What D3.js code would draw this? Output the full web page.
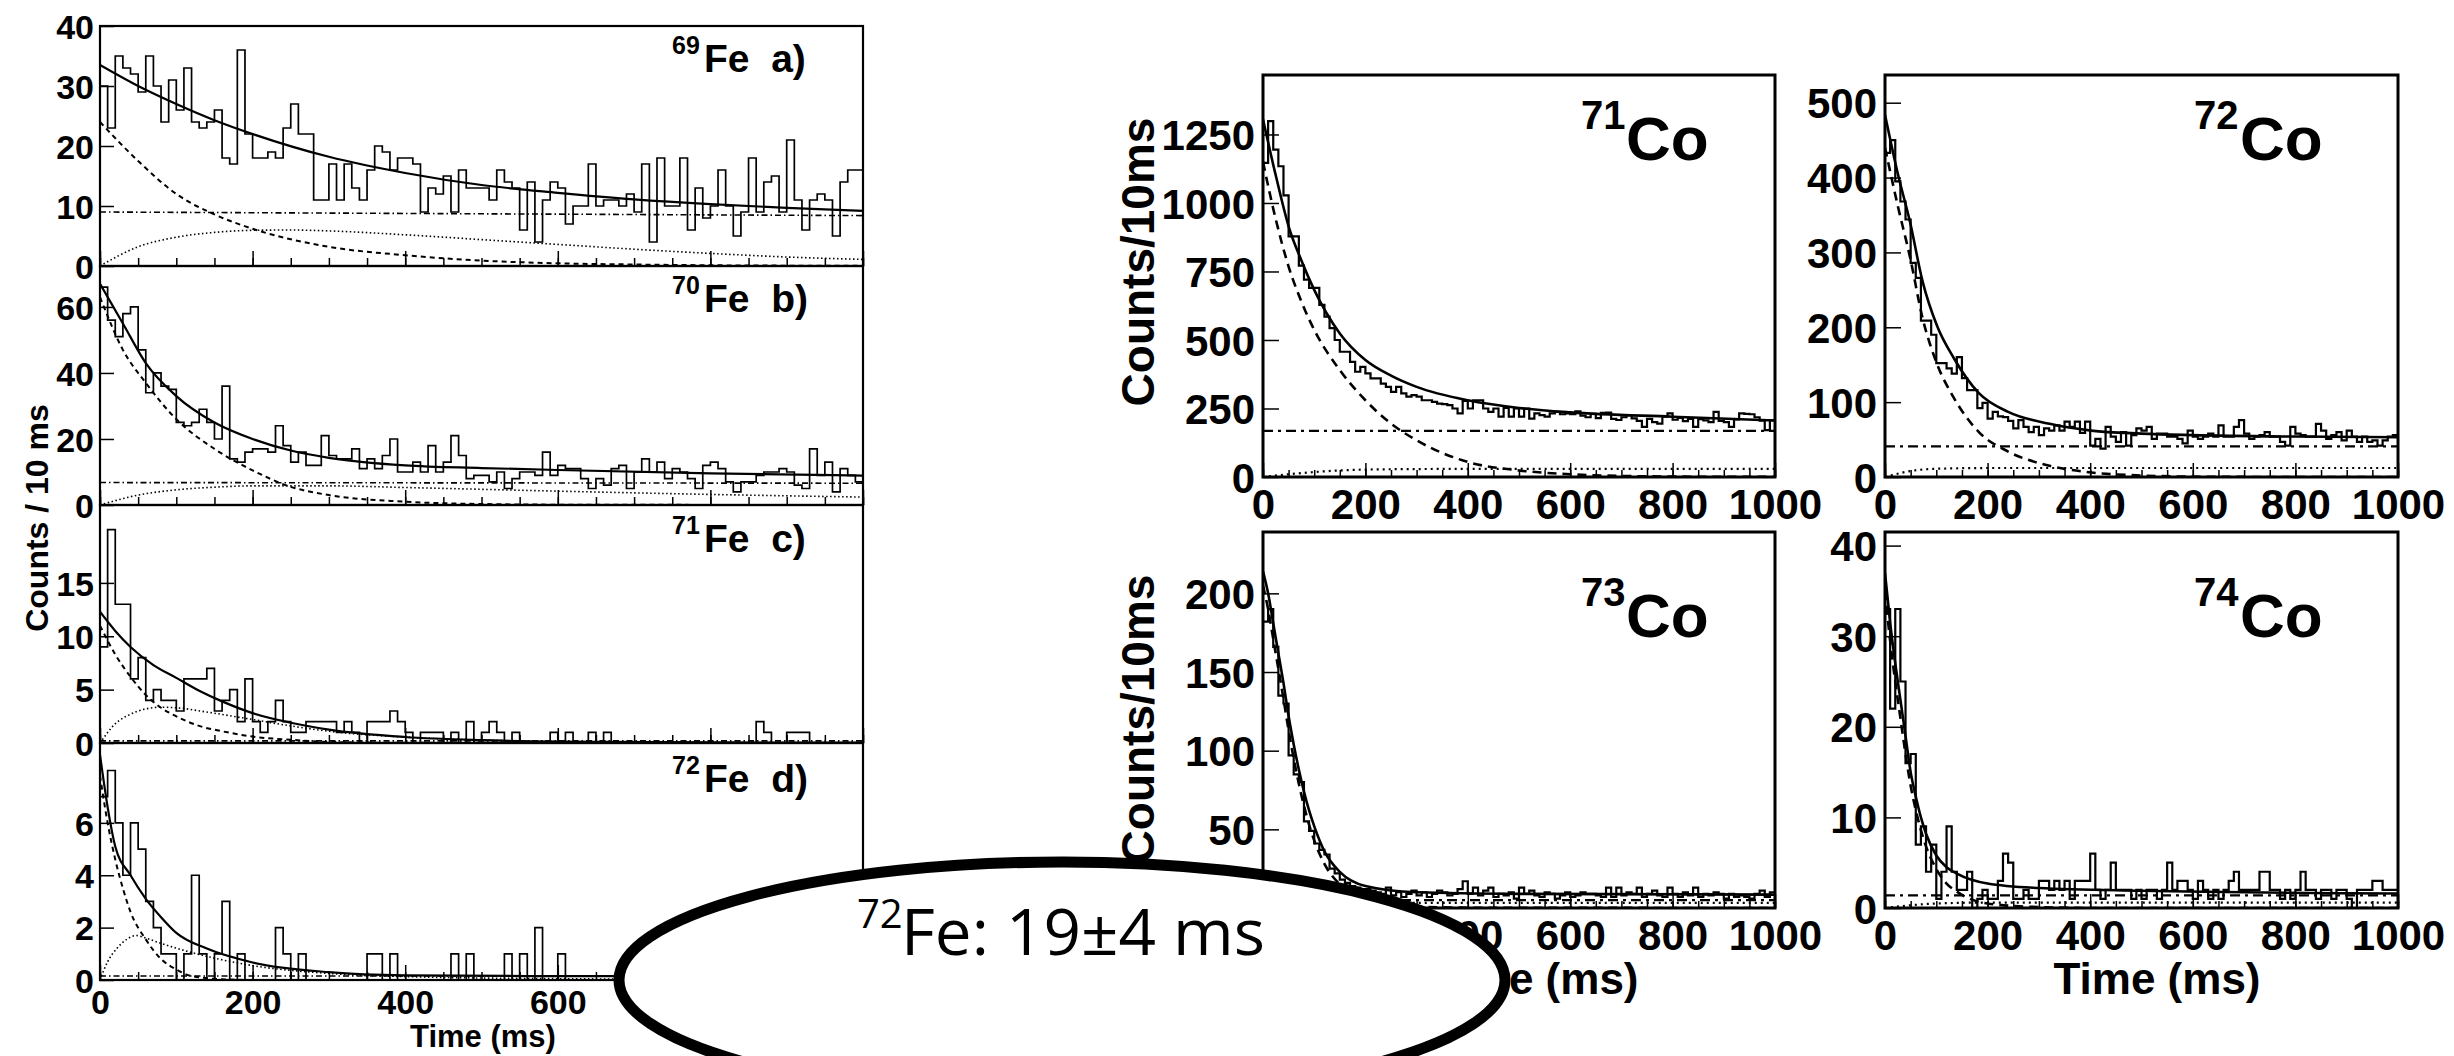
<!DOCTYPE html>
<html><head><meta charset="utf-8">
<script src="https://cdn.jsdelivr.net/npm/d3@7"></script>
<style>html,body{margin:0;padding:0;background:#fff;} svg{display:block}</style>
</head><body>
<svg id="chart" width="2454" height="1056"></svg>
<script>
// ---------------- DATA ----------------
const binWidth = 10; // ms per bin
const timeTickLabels = [0, 200, 400, 600, 800, 1000];

// Left column: Fe isotopes (counts per 10 ms bin, 0..1000 ms)
const fe69Counts = [30,23,35,33,32,29,35,30,24,31, 26,33,24,23,24,26,18,17,36,22, 18,18,19,18,23,27,22,22,11,11,
  17,11,17,13,11,16,20,19,16,18, 18,17,9,13,12,15,9,16,13,13, 13,11,16,14,13,6,14,4,11,14,
  13,7,10,10,17,10,11,11,10,12, 9,17,4,18,10,10,18,6,13,8, 10,16,10,5,9,18,9,14,15,9, 21,11,6,11,12,11,5,14,16,16];
const fe70Counts = [66,56,51,58,60,47,34,40,36,35, 25,24,25,29,25,20,36,14,13,16, 17,17,16,24,18,13,16,12,12,21,
  15,14,14,17,11,14,11,15,20,10, 10,13,10,18,10,13,21,15,8,9, 9,7,10,5,8,10,10,9,16,9,
  12,11,11,8,5,8,6,11,12,5, 10,14,10,13,8,11,10,8,5,12, 13,11,7,4,7,7,9,10,10,11, 10,6,5,17,9,13,4,11,9,7];
const fe71Counts = [9,20,13,13,6,8,4,5,4,4, 3,6,6,6,7,3,4,5,2,6, 2,1,2,4,2,1,1,2,2,2, 2,1,2,1,0,2,2,2,3,2,
  1,0,1,1,1,0,1,0,2,0, 1,2,1,0,1,0,0,0,0,1, 0,1,0,0,1,0,1,0,0,0, 0,0,0,0,0,0,0,0,0,0,
  0,0,0,0,0,0,2,1,0,0, 1,1,1,0,0,0,0,0,0,0];
const fe72Counts = [7,8,6,4,6,5,3,2,1,1, 0,1,4,1,0,1,3,0,1,0, 0,0,0,2,1,0,1,0,0,0, 0,0,0,0,0,1,1,0,1,0,
  0,0,0,0,0,0,1,0,1,0, 0,0,0,1,0,1,0,2,0,0, 1,0,0,0,0,0,0,0,0,0, 0,0,1,0,0,0,0,1,0,0,
  0,1,0,0,0,0,0,0,1,0, 0,0,0,1,0,0,0,0,0,0];

// Fit components: [time ms, counts]
const fe69Total = [[0,33.5],[50,30],[100,27],[150,24.3],[200,22],[300,18.2],[400,15.5],[500,13.5],[600,12.2],[700,11.1],[800,10.3],[900,9.7],[1000,9.2]];
const fe69Parent = [[0,24],[50,17.5],[100,12],[150,8.6],[200,6.2],[300,3.2],[400,1.8],[500,0.9],[600,0.45],[700,0.25],[800,0.12],[1000,0.03]];
const fe69Daughter = [[0,0],[50,3.2],[100,4.8],[150,5.6],[200,5.95],[250,6.0],[300,5.85],[400,5.2],[500,4.4],[600,3.6],[700,2.8],[800,2.1],[900,1.5],[1000,1.1]];
const fe69Bg = [[0,9.0],[1000,8.4]];

const fe70Total = [[0,67],[30,55],[60,43],[100,33],[150,25],[200,20],[250,16.5],[300,14.3],[400,12],[500,11.2],[600,10.6],[800,9.6],[1000,8.9]];
const fe70Parent = [[0,63],[30,47],[60,37],[100,26],[150,17],[200,10.5],[250,5.5],[300,3],[400,1.0],[500,0.3],[600,0.1],[1000,0]];
const fe70Daughter = [[0,0],[50,3],[100,4.6],[150,5.4],[200,5.8],[300,5.8],[400,5.3],[600,4.2],[800,3.2],[1000,2.4]];
const fe70Bg = [[0,6.8],[1000,6.6]];

const fe71Total = [[0,12.3],[20,10.5],[40,9],[70,7.3],[100,6.1],[130,4.9],[160,3.9],[200,2.8],[250,1.9],[300,1.25],[400,0.56],[500,0.27],[600,0.14],[800,0.06],[1000,0.03]];
const fe71Parent = [[0,11],[20,8.3],[40,6.2],[60,4.5],[80,3.3],[100,2.5],[130,1.6],[160,1.1],[200,0.6],[250,0.3],[300,0.1],[400,0.02],[1000,0]];
const fe71Daughter = [[0,0],[20,1.8],[40,2.7],[60,3.2],[80,3.35],[100,3.3],[140,2.9],[200,2.2],[250,1.6],[300,1.1],[400,0.55],[500,0.27],[600,0.13],[800,0.04],[1000,0.01]];
const fe71Bg = [[0,0.2],[1000,0.2]];

const fe72Total = [[0,8.6],[10,6.6],[20,5.1],[40,4.0],[60,3.1],[80,2.4],[100,1.8],[140,1.2],[200,0.67],[300,0.3],[400,0.18],[600,0.15],[1000,0.15]];
const fe72Parent = [[0,7.8],[10,6],[20,4.6],[30,3.5],[40,2.6],[60,1.55],[80,0.8],[100,0.4],[120,0.15],[160,0.03],[200,0],[1000,0]];
const fe72Daughter = [[0,0],[10,0.7],[22,1.2],[35,1.55],[47,1.7],[60,1.6],[80,1.4],[120,1.05],[160,0.77],[200,0.55],[300,0.25],[400,0.13],[600,0.05],[1000,0.01]];
const fe72Bg = [[0,0.15],[1000,0.15]];

// Right block: Co isotopes
const co71Counts = [1146,1299,1195,1134,1028,878,878,771,720,690, 690,628,585,543,500,457,457,420,384,402,
  378,360,360,341,329,311,329,305,293,299, 293,280,280,274,268,266,262,250,232,278,
  250,280,280,250,238,250,220,252,220,250, 220,250,213,232,226,220,232,238,229,232,
  229,240,224,218,230,215,234,235,212,208, 218,226,214,205,183,212,200,195,220,232,
  209,216,204,212,183,211,207,200,238,205, 200,183,210,232,230,229,218,206,171,207];
const co72Counts = [433,450,395,368,344,286,266,209,209,190, 152,152,145,138,160,132,116,116,92,99,
  78,87,81,80,75,65,76,67,60,67, 56,65,62,69,62,74,67,74,59,74, 42,51,38,67,54,47,60,42,56,65,
  62,67,51,58,58,54,54,51,45,62, 54,51,54,58,54,69,54,54,67,76, 58,51,54,56,60,54,54,47,42,67,
  58,56,54,54,71,62,51,56,60,49, 62,54,47,54,47,49,42,49,54,56];
const co73Counts = [182,190,166,135,130,97,85,80,55,49, 41,37,34,25,22,18,16,14,13,12,
  12,11,10,9,13,8,10,7,9,11, 8,10,7,9,11,10,8,9,12,17, 9,13,8,11,13,7,9,8,10,6,
  13,9,11,8,7,10,9,6,8,10, 7,8,10,9,9,8,7,13,7,13, 8,10,9,13,7,9,11,8,7,13,
  9,7,10,8,13,7,9,8,10,9, 6,9,7,8,7,6,9,11,7,10];
const co74Counts = [33,22,33,25,16,17,7,9,4,7, 1,4,9,4,2,2,4,0,1,2, 1,1,3,6,5,1,1,2,1,1,
  3,3,2,3,2,3,1,3,3,3, 6,2,1,2,5,2,2,2,1,2, 1,2,2,1,2,5,2,3,3,2, 1,3,2,1,2,1,2,3,4,2,
  2,2,2,4,4,2,2,1,2,1, 2,4,2,2,1,2,2,1,2,2, 1,0,2,2,2,3,3,2,2,2];

const co71Total = [[0,1305],[25,1100],[50,915],[75,790],[100,683],[150,524],[200,427],[250,370],[300,329],[400,280],[500,252],[600,236],[800,220],[1000,206]];
const co71Parent = [[0,1150],[25,940],[50,768],[75,640],[100,537],[150,390],[200,280],[250,195],[300,134],[400,55],[500,24],[600,10],[700,4],[800,1.5],[1000,0.3]];
const co71Daughter = [[0,0],[50,10],[100,18],[150,24],[200,27],[300,29],[500,30],[1000,30]];
const co71Bg = [[0,168],[1000,168]];

const co72Total = [[0,484],[25,405],[49,340],[73,262],[102,201],[134,159],[183,112],[240,87],[321,71],[402,62],[500,58],[600,56],[800,54],[1000,53]];
const co72Parent = [[0,440],[25,362],[49,293],[73,213],[102,150],[134,106],[183,60],[240,34],[321,15],[402,6],[500,2],[600,0.5],[800,0],[1000,0]];
const co72Daughter = [[0,0],[50,8],[100,11],[200,12],[1000,12]];
const co72Bg = [[0,41],[1000,41]];

const co73Total = [[0,214],[10,200],[20,181],[30,162],[40,143],[50,122],[60,104],[70,88],[80,74],[90,62],[100,52],[120,36],[150,23],[200,14],[300,10],[500,9],[1000,8.5]];
const co73Parent = [[0,205],[10,190],[20,171],[30,152],[40,133],[50,113],[60,95],[70,79],[80,65],[90,53],[100,43],[120,28],[150,15],[200,6],[300,1],[400,0.2],[1000,0]];
const co73Daughter = [[0,0],[50,2],[100,3],[200,3.2],[1000,3.2]];
const co73Bg = [[0,5],[1000,5]];

const co74Total = [[0,37],[10,31.5],[20,27],[30,23],[40,19],[50,15],[60,12.3],[70,10],[80,8.2],[100,5.8],[120,4.5],[140,3.8],[200,2.7],[300,2.2],[500,1.9],[1000,1.6]];
const co74Parent = [[0,35],[10,29.5],[20,25],[30,21],[40,17],[50,13.5],[60,10.8],[70,8.6],[80,6.8],[100,4.3],[120,2.7],[140,1.8],[200,0.5],[300,0.1],[400,0],[1000,0]];
const co74Daughter = [[0,0],[50,0.3],[100,0.5],[200,0.6],[1000,0.6]];
const co74Bg = [[0,1.4],[1000,1.4]];

// Y tick labels
const fe69YTicks = [0,10,20,30,40];
const fe70YTicks = [0,20,40,60];
const fe71YTicks = [0,5,10,15];
const fe72YTicks = [0,2,4,6];
const co71YTicks = [0,250,500,750,1000,1250];
const co72YTicks = [0,100,200,300,400,500];
const co73YTicks = [0,50,100,150,200];
const co74YTicks = [0,10,20,30,40];

const yMaxes = {fe69:40, fe70:72.4, fe71:22.3, fe72:9.05, co71:1467, co72:537, co73:239, co74:41.5};

// --------------- DRAWING ----------------
const svg = d3.select('#chart');
svg.append('rect').attr('width',2454).attr('height',1056).attr('fill','#fff');
const FONT = '"Liberation Sans", Arial, Helvetica, sans-serif';

// callout ellipse geometry (layout)
const callout = {cx:1062, cy:980, rx:443, ry:118};
function insideCallout(px, py) {
  const dx = (px - callout.cx) / (callout.rx - 6), dy = (py - callout.cy) / (callout.ry - 6);
  return dx*dx + dy*dy < 1;
}
function hideIfCovered(sel) {
  sel.each(function(){
    const b = this.getBBox();
    const ctm = this.getCTM();
    const corners = [[b.x,b.y],[b.x+b.width,b.y],[b.x,b.y+b.height],[b.x+b.width,b.y+b.height]]
      .map(([a,c])=>[ctm.a*a+ctm.c*c+ctm.e, ctm.b*a+ctm.d*c+ctm.f]);
    if (b.width > 0 && corners.every(([a,c])=>insideCallout(a,c))) d3.select(this).remove();
  });
}

function drawPanel(p, st) {
  const [x0,y0,x1,y1] = p.box;
  const x = d3.scaleLinear().domain([0,1000]).range([x0,x1]);
  const y = d3.scaleLinear().domain([0,p.ymax]).range([y1,y0]);
  const g = svg.append('g');
  const clipId = 'clip-' + p.id;
  svg.append('clipPath').attr('id',clipId).append('rect')
    .attr('x',x0).attr('y',y0).attr('width',x1-x0).attr('height',y1-y0);
  const plot = g.append('g').attr('clip-path',`url(#${clipId})`);

  // histogram
  const pts = p.counts.map((v,i)=>[i*binWidth, v]);
  pts.push([p.counts.length*binWidth, p.counts[p.counts.length-1]]);
  const hist = d3.line().x(d=>x(d[0])).y(d=>y(d[1])).curve(d3.curveStepAfter);
  plot.append('path').attr('d',hist(pts)).attr('fill','none')
    .attr('stroke','#000').attr('stroke-width',st.histW).attr('stroke-linejoin','miter');

  const fl = d3.line().x(d=>x(d[0])).y(d=>y(Math.max(0,d[1]))).curve(d3.curveMonotoneX);
  const comps = [
    {d:p.bg, dash:st.bgDash, w:st.bgW},
    {d:p.daughter, dash:st.dotDash, w:st.dotW},
    {d:p.parent, dash:st.dashDash, w:st.dashW},
    {d:p.total, dash:null, w:st.totW}
  ];
  comps.forEach(c=>{
    const path = plot.append('path').attr('d',fl(c.d)).attr('fill','none')
      .attr('stroke','#000').attr('stroke-width',c.w);
    if (c.dash) path.attr('stroke-dasharray',c.dash);
  });

  // x ticks (inside)
  const axMinor = d3.axisBottom(x).tickValues(x.ticks(20)).tickSize(-st.minorLen).tickFormat('');
  const gMinor = g.append('g').attr('transform',`translate(0,${y1})`).call(axMinor);
  gMinor.select('.domain').remove();
  gMinor.selectAll('line').attr('stroke-width',st.tickW);
  const axMajor = d3.axisBottom(x).tickValues(timeTickLabels).tickSize(-st.majorLen)
    .tickPadding(st.xLabPad).tickFormat(p.xLabels ? d3.format('d') : '');
  const gMajor = g.append('g').attr('transform',`translate(0,${y1})`).call(axMajor);
  gMajor.select('.domain').remove();
  gMajor.selectAll('line').attr('stroke-width',st.tickW);
  gMajor.selectAll('text').attr('font-family',FONT).attr('font-weight','bold')
    .attr('font-size',st.labSize).attr('fill','#000');

  // y ticks (inside)
  const axY = d3.axisLeft(y).tickValues(p.yTicks).tickSize(-st.yTickLen).tickPadding(st.yLabPad)
    .tickFormat(d3.format('d'));
  const gY = g.append('g').attr('transform',`translate(${x0},0)`).call(axY);
  gY.select('.domain').remove();
  gY.selectAll('line').attr('stroke-width',st.tickW);
  gY.selectAll('text').attr('font-family',FONT).attr('font-weight','bold')
    .attr('font-size',st.labSize).attr('fill','#000').attr('dy','0.36em');

  // frame
  g.append('rect').attr('x',x0).attr('y',y0).attr('width',x1-x0).attr('height',y1-y0)
    .attr('fill','none').attr('stroke','#000').attr('stroke-width',st.frameW);

  // isotope label
  const L = p.label;
  g.append('text').attr('x',L.mx).attr('y',L.my).text(L.mass)
    .attr('font-family',FONT).attr('font-weight','bold').attr('font-size',L.msize);
  g.append('text').attr('x',L.ex).attr('y',L.ey).text(L.text).attr('xml:space','preserve')
    .attr('font-family',FONT).attr('font-weight','bold').attr('font-size',L.esize);

  hideIfCovered(gMajor.selectAll('text'));
  hideIfCovered(gY.selectAll('text'));
}

const leftStyle = {histW:1.7, totW:2.2, dashW:2, dashDash:'5,4', dotW:1.6, dotDash:'1.5,2.5',
  bgW:1.6, bgDash:'6,3,1.5,3', minorLen:8, majorLen:15, yTickLen:14, tickW:1.5, frameW:2.2,
  labSize:34, xLabPad:10, yLabPad:6};
const rightStyle = {histW:2.2, totW:2.6, dashW:2.6, dashDash:'9,6', dotW:2.2, dotDash:'2,4',
  bgW:2.2, bgDash:'10,5,3,5', minorLen:7, majorLen:14, yTickLen:16, tickW:1.5, frameW:3,
  labSize:42, xLabPad:12, yLabPad:8};

const leftPanels = [
  {id:'fe69', counts:fe69Counts, total:fe69Total, parent:fe69Parent, daughter:fe69Daughter, bg:fe69Bg,
   yTicks:fe69YTicks, box:[100,26,863,266], xLabels:false,
   label:{mass:'69', text:'Fe  a)', mx:672, my:54, msize:25, ex:704, ey:72, esize:39}},
  {id:'fe70', counts:fe70Counts, total:fe70Total, parent:fe70Parent, daughter:fe70Daughter, bg:fe70Bg,
   yTicks:fe70YTicks, box:[100,266,863,505], xLabels:false,
   label:{mass:'70', text:'Fe  b)', mx:672, my:294, msize:25, ex:704, ey:312, esize:39}},
  {id:'fe71', counts:fe71Counts, total:fe71Total, parent:fe71Parent, daughter:fe71Daughter, bg:fe71Bg,
   yTicks:fe71YTicks, box:[100,505,863,743], xLabels:false,
   label:{mass:'71', text:'Fe  c)', mx:672, my:534, msize:25, ex:704, ey:552, esize:39}},
  {id:'fe72', counts:fe72Counts, total:fe72Total, parent:fe72Parent, daughter:fe72Daughter, bg:fe72Bg,
   yTicks:fe72YTicks, box:[100,743,863,980], xLabels:true,
   label:{mass:'72', text:'Fe  d)', mx:672, my:774, msize:25, ex:704, ey:792, esize:39}}
];
leftPanels.forEach(p=>{ p.ymax = yMaxes[p.id]; drawPanel(p, leftStyle); });

const rightPanels = [
  {id:'co71', counts:co71Counts, total:co71Total, parent:co71Parent, daughter:co71Daughter, bg:co71Bg,
   yTicks:co71YTicks, box:[1263,75,1775,477], xLabels:true,
   label:{mass:'71', text:'Co', mx:1581, my:129, msize:40, ex:1626, ey:160, esize:62}},
  {id:'co72', counts:co72Counts, total:co72Total, parent:co72Parent, daughter:co72Daughter, bg:co72Bg,
   yTicks:co72YTicks, box:[1885,75,2398,477], xLabels:true,
   label:{mass:'72', text:'Co', mx:2194, my:129, msize:40, ex:2240, ey:160, esize:62}},
  {id:'co73', counts:co73Counts, total:co73Total, parent:co73Parent, daughter:co73Daughter, bg:co73Bg,
   yTicks:co73YTicks, box:[1263,532,1775,908], xLabels:true,
   label:{mass:'73', text:'Co', mx:1581, my:606, msize:40, ex:1626, ey:637, esize:62}},
  {id:'co74', counts:co74Counts, total:co74Total, parent:co74Parent, daughter:co74Daughter, bg:co74Bg,
   yTicks:co74YTicks, box:[1885,532,2398,908], xLabels:true,
   label:{mass:'74', text:'Co', mx:2194, my:606, msize:40, ex:2240, ey:637, esize:62}}
];
rightPanels.forEach(p=>{ p.ymax = yMaxes[p.id]; drawPanel(p, rightStyle); });

// Axis titles
function title(txt, x, y, size, rot) {
  const t = svg.append('text').text(txt).attr('font-family',FONT).attr('font-weight','bold')
    .attr('font-size',size).attr('text-anchor','middle');
  if (rot) t.attr('transform',`translate(${x},${y}) rotate(-90)`).attr('dy','0.36em');
  else t.attr('x',x).attr('y',y);
}
title('Counts / 10 ms', 36, 518, 32, true);
title('Time (ms)', 483, 1047, 31, false);
title('Counts/10ms', 1137, 262, 46, true);
title('Counts/10ms', 1137, 719, 46, true);
title('Time (ms)', 1535, 994, 44, false);
title('Time (ms)', 2157, 994, 44, false);

// Callout ellipse
svg.append('ellipse').attr('cx',callout.cx).attr('cy',callout.cy).attr('rx',callout.rx).attr('ry',callout.ry)
  .attr('fill','#fff').attr('stroke','#000').attr('stroke-width',11);
const CFONT = '"Open Sans", "Noto Sans", sans-serif';
svg.append('text').attr('x',857).attr('y',928).text('72')
  .attr('font-family',CFONT).attr('font-size',40);
svg.append('text').attr('x',901).attr('y',955).text('Fe: 19±4 ms')
  .attr('font-family',CFONT).attr('font-size',64)
  .attr('textLength',364).attr('lengthAdjust','spacingAndGlyphs');
</script>
</body></html>
